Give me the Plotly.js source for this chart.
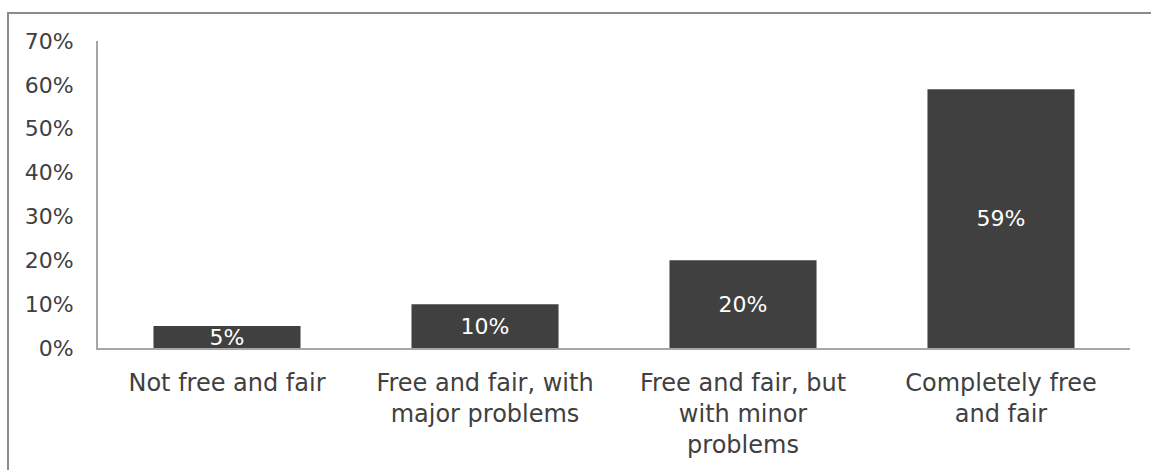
<!DOCTYPE html>
<html>
<head>
<meta charset="utf-8">
<script src="https://cdn.plot.ly/plotly-3.0.1.min.js"></script>
<style>
  html, body { margin: 0; padding: 0; background: #ffffff; }
  #wrap { position: relative; width: 1151px; height: 470px; overflow: hidden; }
  #frame { position: absolute; left: 7px; top: 12px; width: 1300px; height: 600px;
           border: 2px solid #8c8c8c; box-sizing: border-box; }
  #chart { position: absolute; left: 0; top: 0; width: 1151px; height: 470px; }
</style>
</head>
<body>
<div id="wrap">
  <div id="frame"></div>
  <div id="chart"></div>
</div>
<script>
const categories = [
  "Not free and fair",
  "Free and fair, with<br>major problems",
  "Free and fair, but<br>with minor<br>problems",
  "Completely free<br>and fair"
];
const values = [0.05, 0.10, 0.20, 0.59];
const valueLabels = ["5%", "10%", "20%", "59%"];
const yTickVals = [0, 0.1, 0.2, 0.3, 0.4, 0.5, 0.6, 0.7];

const fontFamily = "DejaVu Sans, sans-serif";

const trace = {
  type: "bar",
  x: categories,
  y: values,
  text: valueLabels,
  textposition: "inside",
  insidetextanchor: "middle",
  constraintext: "none",
  textangle: 0,
  insidetextfont: { family: fontFamily, size: 22, color: "#ffffff" },
  marker: { color: "#404040", line: { width: 0 } },
  hoverinfo: "none"
};

const layout = {
  width: 1151,
  height: 470,
  margin: { l: 98, r: 21, t: 41, b: 122 },
  paper_bgcolor: "rgba(0,0,0,0)",
  plot_bgcolor: "rgba(0,0,0,0)",
  bargap: 0.43,
  showlegend: false,
  font: { family: fontFamily, size: 22, color: "#404040" },
  xaxis: {
    type: "category",
    showgrid: false,
    zeroline: false,
    showline: true,
    linecolor: "#a6a6a6",
    linewidth: 2,
    ticks: "",
    tickfont: { family: fontFamily, size: 24, color: "#404040" },
    ticklabelstandoff: 12
  },
  yaxis: {
    range: [0, 0.7],
    tickvals: yTickVals,
    tickformat: ".0%",
    showgrid: false,
    zeroline: false,
    showline: true,
    linecolor: "#a6a6a6",
    linewidth: 2,
    ticks: "",
    tickfont: { family: fontFamily, size: 22, color: "#404040" },
    ticklabelstandoff: 18
  }
};

Plotly.newPlot("chart", [trace], layout, { displayModeBar: false, staticPlot: true });
</script>
</body>
</html>
